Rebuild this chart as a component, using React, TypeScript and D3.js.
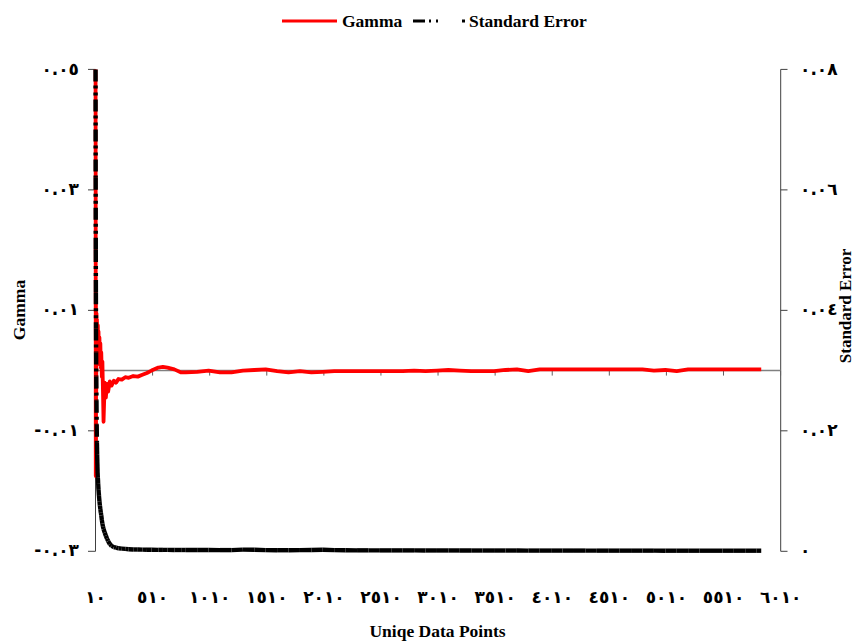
import React from 'react';
import * as d3 from 'd3';

// ---- data ----
const points: number[] = [
  10, 11, 12, 13, 14, 15, 16, 18, 20, 22, 24, 26, 28, 30, 33, 36, 40, 44, 48, 52,
  56, 60, 65, 70, 75, 80, 90, 100, 110, 120, 135, 150, 170, 190, 210, 240, 270, 300, 340, 380,
  420, 460, 500, 560, 600, 640, 700, 760, 800, 900,
  1000, 1100, 1200, 1300, 1400, 1500, 1600, 1700, 1800, 1900,
  2000, 2100, 2200, 2300, 2400, 2500, 2600, 2700, 2800, 2900,
  3000, 3100, 3200, 3300, 3400, 3500, 3600, 3700, 3800, 3900,
  4000, 4100, 4200, 4300, 4400, 4500, 4600, 4700, 4800, 4900,
  5000, 5100, 5200, 5300, 5400, 5500, 5600, 5700, 5800, 5840,
];

const gamma: number[] = [
  0.05, 0.03, -0.0175, 0.012, -0.012, 0.009, -0.004, 0.0095, 0.0035, 0.0085,
  0.002, 0.007, 0.0045, 0.0075, 0.003, 0.0065, 0.002, 0.0055, 0.001, 0.0045,
  0.0005, 0.003, -0.001, 0.0015, -0.0035, -0.0085, -0.002, -0.0045, -0.0022, -0.0035,
  -0.0018, -0.0025, -0.0017, -0.002, -0.0014, -0.0015, -0.0011, -0.0012, -0.0009, -0.001,
  -0.0007, -0.0004, 0.0, 0.0005, 0.0006, 0.0005, 0.0002, -0.0003, -0.0003, -0.0002,
  0.0, -0.0003, -0.0003, 0.0, 0.0001, 0.0002, -0.0001, -0.0003, -0.0001, -0.0003,
  -0.0002, -0.0001, -0.0001, -0.0001, -0.0001, -0.0001, -0.0001, -0.0001, 0.0, -0.0001,
  0.0, 0.0001, 0.0, -0.0001, -0.0001, -0.0001, 0.0001, 0.0002, -0.0001, 0.0002,
  0.0002, 0.0002, 0.0002, 0.0002, 0.0002, 0.0002, 0.0002, 0.0002, 0.0002, 0.0,
  0.0001, -0.0001, 0.0002, 0.0002, 0.0002, 0.0002, 0.0002, 0.0002, 0.0002, 0.0002,
];

const stdErr: number[] = [
  0.08, 0.062, 0.05, 0.043, 0.037, 0.033, 0.029, 0.025, 0.021, 0.018,
  0.016, 0.0145, 0.013, 0.0122, 0.0112, 0.0102, 0.0092, 0.0083, 0.0076, 0.007,
  0.0064, 0.006, 0.0052, 0.0046, 0.0041, 0.0037, 0.0031, 0.0026, 0.0021, 0.0017,
  0.0012, 0.0009, 0.0007, 0.0006, 0.0005, 0.00045, 0.0004, 0.00035, 0.0003, 0.0003,
  0.00028, 0.00026, 0.00025, 0.00024, 0.00024, 0.00023, 0.00022, 0.00022, 0.00022, 0.00021,
  0.00022, 0.0002, 0.0002, 0.00028, 0.00025, 0.0002, 0.00018, 0.00018, 0.0002, 0.00022,
  0.00026, 0.0002, 0.00018, 0.00016, 0.00016, 0.00015, 0.00015, 0.00015, 0.00015, 0.00014,
  0.00014, 0.00014, 0.00014, 0.00013, 0.00013, 0.00013, 0.00013, 0.00013, 0.00012, 0.00012,
  0.00012, 0.00012, 0.00012, 0.00012, 0.00011, 0.00011, 0.00011, 0.00011, 0.00011, 0.00011,
  0.0001, 0.0001, 0.0001, 0.0001, 0.0001, 0.0001, 0.0001, 0.0001, 0.0001, 0.0001,
];

const xLabelValues: number[] = [10, 510, 1010, 1510, 2010, 2510, 3010, 3510, 4010, 4510, 5010, 5510, 6010];
const gammaTicks: number[] = [0.05, 0.03, 0.01, -0.01, -0.03];
const seTicks: number[] = [0.08, 0.06, 0.04, 0.02, 0];

const seriesNames = ['Gamma', 'Standard Error'];
const xTitle = 'Uniqe Data Points';

const arabicDigits = '٠١٢٣٤٥٦٧٨٩';
const toArabic = (s: string) => s.replace(/[0-9]/g, (d) => arabicDigits[+d]);
const fmt = (v: number) => (v === 0 ? toArabic('0') : toArabic(v.toFixed(2)));

export default function App() {
  const W = 853;
  const H = 641;
  const left = 95.5;
  const right = 780.7;
  const top = 69.4;
  const bottom = 551.3;

  const x = d3.scaleLinear().domain([9.5, 6010.5]).range([left, right]);
  const yL = d3.scaleLinear().domain([-0.03, 0.05]).range([bottom, top]);
  const yR = d3.scaleLinear().domain([0, 0.08]).range([bottom, top]);

  const zeroY = yL(0);
  const gammaLine = d3
    .line<number>()
    .x((_, i) => x(points[i]))
    .y((d) => yL(d));

  const sePts = points.map((p, i) => [x(p), yR(stdErr[i])] as [number, number]);
  const xTickPositions = d3.range(0, 13).map((n) => x(9.5 + 500 * n));

  const serif = '"Liberation Serif", "Times New Roman", serif';
  const arabicFont = '"DejaVu Sans", sans-serif';
  const dash = '12,4,3,4,3,4';
  const tickFont = 17;
  const tickSpacing = -2;

  return (
    <svg
      width={W}
      height={H}
      style={{ position: 'absolute', left: 0, top: 0, display: 'block', background: '#fff' }}
    >
      {/* legend */}
      <line x1={282} x2={337} y1={21} y2={21} stroke="#ff0000" strokeWidth={3.2} />
      <text x={342} y={27} fontFamily={serif} fontWeight="bold" fontSize={17.5} fill="#000">
        {seriesNames[0]}
      </text>
      <line x1={413} x2={465} y1={21} y2={21} stroke="#000" strokeWidth={3.2} strokeDasharray="12,4,2,5,2,24" />
      <text x={469} y={27} fontFamily={serif} fontWeight="bold" fontSize={17.5} fill="#000">
        {seriesNames[1]}
      </text>

      {/* left axis */}
      <line x1={left} x2={left} y1={top} y2={bottom} stroke="#404040" strokeWidth={1} />
      {gammaTicks.map((t) => (
        <g key={'gl' + t}>
          <line x1={88} x2={left} y1={yL(t)} y2={yL(t)} stroke="#404040" strokeWidth={1} />
          <text
            x={79}
            y={yL(t)}
            dy="0.3em"
            textAnchor="end"
            fontFamily={arabicFont}
            fontWeight="bold"
            fontSize={tickFont}
            letterSpacing={tickSpacing}
            fill="#000"
          >
            {fmt(t)}
          </text>
        </g>
      ))}

      {/* right axis */}
      <line x1={right} x2={right} y1={top} y2={bottom} stroke="#404040" strokeWidth={1} />
      {seTicks.map((t) => (
        <g key={'sr' + t}>
          <line x1={right} x2={787.5} y1={yR(t)} y2={yR(t)} stroke="#404040" strokeWidth={1} />
          <text
            x={800}
            y={yR(t)}
            dy="0.3em"
            textAnchor="start"
            fontFamily={arabicFont}
            fontWeight="bold"
            fontSize={tickFont}
            letterSpacing={tickSpacing}
            fill="#000"
          >
            {fmt(t)}
          </text>
        </g>
      ))}

      {/* x axis at zero */}
      <line x1={left} x2={right} y1={zeroY} y2={zeroY} stroke="#808080" strokeWidth={1.5} />
      {xTickPositions.map((px, i) => (
        <line key={'xt' + i} x1={px} x2={px} y1={zeroY} y2={zeroY + 5} stroke="#606060" strokeWidth={1} />
      ))}
      {xLabelValues.map((v) => (
        <text
          key={'xl' + v}
          x={x(v)}
          y={603}
          textAnchor="middle"
          fontFamily={arabicFont}
          fontWeight="bold"
          fontSize={tickFont}
          letterSpacing={tickSpacing}
          fill="#000"
        >
          {toArabic(String(v))}
        </text>
      ))}

      {/* series */}
      <path
        d={gammaLine(gamma) || ''}
        fill="none"
        stroke="#ff0000"
        strokeWidth={3.8}
        strokeLinejoin="round"
      />
      {sePts.slice(1).map((pt, i) => (
        <line
          key={'se' + i}
          x1={sePts[i][0]}
          y1={sePts[i][1]}
          x2={pt[0]}
          y2={pt[1]}
          stroke="#000"
          strokeWidth={4.4}
          strokeDasharray={dash}
        />
      ))}

      {/* axis titles */}
      <text
        transform="translate(25,310) rotate(-90)"
        textAnchor="middle"
        fontFamily={serif}
        fontWeight="bold"
        fontSize={17.5}
        fill="#000"
      >
        {seriesNames[0]}
      </text>
      <text
        transform="translate(850.5,306) rotate(-90)"
        textAnchor="middle"
        fontFamily={serif}
        fontWeight="bold"
        fontSize={17}
        fill="#000"
      >
        {seriesNames[1]}
      </text>
      <text x={437.5} y={637} textAnchor="middle" fontFamily={serif} fontWeight="bold" fontSize={17.5} fill="#000">
        {xTitle}
      </text>
    </svg>
  );
}
